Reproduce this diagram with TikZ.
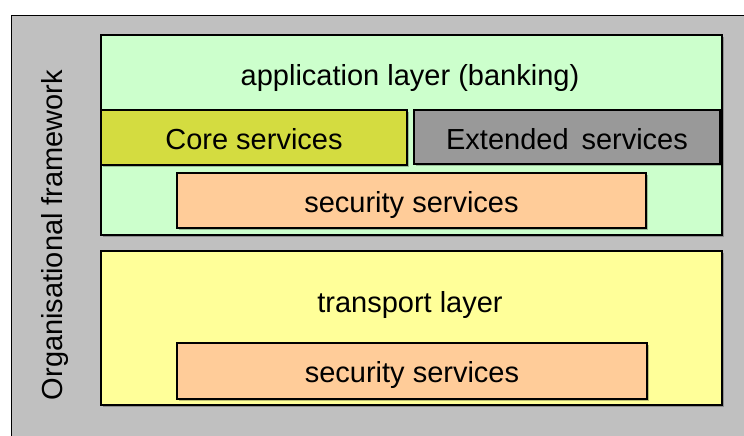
\documentclass[tikz,border=0pt]{standalone}
\usepackage{fontspec}
\setmainfont{Liberation Sans}
\usetikzlibrary{shadows}
\definecolor{bggray}{HTML}{C0C0C0}
\definecolor{appgreen}{HTML}{CCFFCC}
\definecolor{coreyel}{HTML}{D4DC40}
\definecolor{extgray}{HTML}{999999}
\definecolor{secorange}{HTML}{FFCC99}
\definecolor{transyel}{HTML}{FFFF99}
\begin{document}
\begin{tikzpicture}[x=1pt,y=-1pt,
  lbox/.style={draw=black, line width=1.2pt, inner sep=0pt, outer sep=0pt, anchor=north west,
    drop shadow={shadow xshift=2pt, shadow yshift=-2pt, opacity=0.25, fill=black}},
  txt/.style={font=\fontsize{29}{34}\selectfont, inner sep=0pt}]
\useasboundingbox (0,0) rectangle (744,436);
\fill[white] (0,0) rectangle (744,436);
\node[draw=black, line width=1.2pt, fill=bggray, anchor=north west, inner sep=0pt,
  minimum width=760pt, minimum height=450pt] (outer) at (11,15) {};
\node[lbox, fill=appgreen, minimum width=621pt, minimum height=200pt] (app) at (101,35) {};
\node[lbox, fill=coreyel, minimum width=306pt, minimum height=55pt] (core) at (101,110) {};
\node[lbox, fill=extgray, minimum width=306pt, minimum height=54pt] (ext) at (414,110) {};
\node[lbox, fill=secorange, minimum width=469pt, minimum height=55pt] (sec1) at (177,173) {};
\node[lbox, fill=transyel, minimum width=621pt, minimum height=154pt] (trans) at (101,251) {};
\node[lbox, fill=secorange, minimum width=470pt, minimum height=56pt] (sec2) at (177,343) {};
\node[txt] (apptxt) at (410,78) {application layer (banking)};
\node[txt] (coretxt) at ([yshift=-2pt]core.center) {Core services};
\node[txt] (exttxt) at ([yshift=-2pt]ext.center) {Extended\, services};
\node[txt] (sec1txt) at ([yshift=-4pt]sec1.center) {security services};
\node[txt] (transtxt) at (410,305) {transport layer};
\node[txt] (sec2txt) at ([yshift=-4pt]sec2.center) {security services};
\node[txt, rotate=90] (org) at (55,235) {Organisational framework};
\end{tikzpicture}
\end{document}
